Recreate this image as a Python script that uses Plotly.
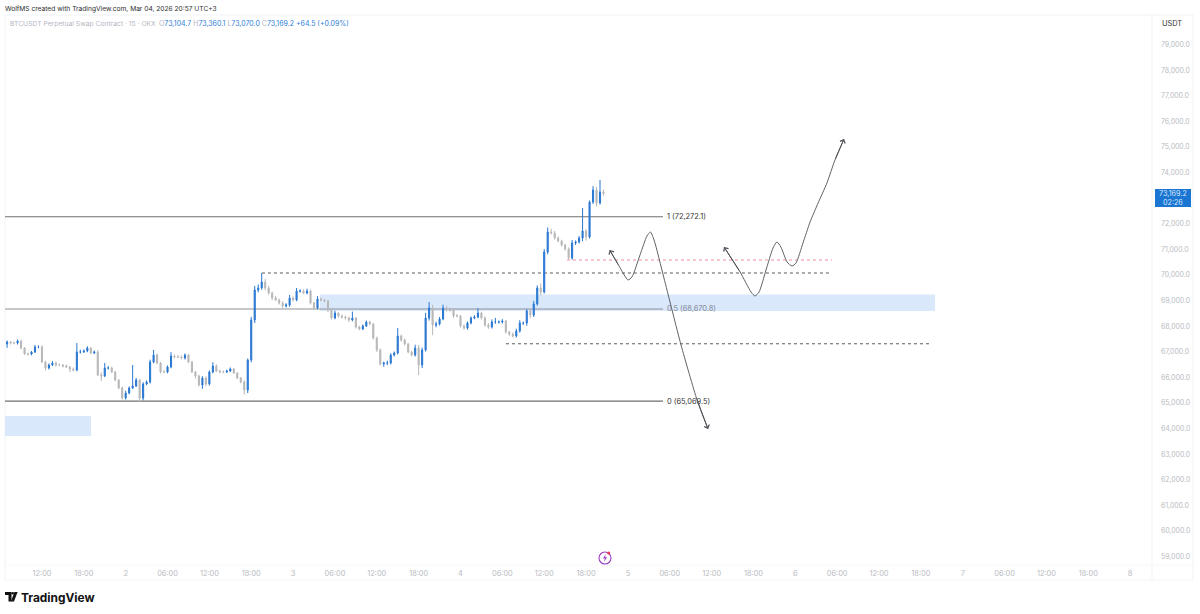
import pandas as pd
import plotly.graph_objects as go

# 30-minute candle path
closes = [
67380,67340,67340,67418,67145,66911,66911,66989,67184,67184,
66598,66364,66481,66559,66481,66481,66442,66403,66325,66286,
66989,66989,67028,67145,66950,66989,66090,66051,66364,66364,
66208,65895,65583,65192,65387,65583,65661,65895,65192,65739,
65817,66598,66872,66559,66208,66208,66403,66833,66794,66794,
66755,66872,66598,66208,66051,65700,65973,65739,66208,66442,
66247,66208,66208,66247,66325,66169,65973,65817,65505,66676,
68239,69411,69489,69723,69489,69293,69098,69020,68903,68786,
68825,69098,69020,69371,69371,69293,69371,68903,68708,69059,
69020,68981,68629,68317,68512,68395,68356,68317,68239,68317,
67965,67887,68005,68161,68083,67536,67067,66520,66559,66559,
66872,66950,67614,67458,67301,66989,66872,67145,66481,67067,
68317,68708,68043,68083,68278,68708,68629,68629,68395,68395,
68005,67926,68122,68317,68356,68512,68317,68043,67965,68161,
68161,68161,68200,67770,67692,67614,67809,68122,68122,68590,
68434,68864,69489,69332,70895,71676,71637,71442,71325,71169,
71012,70660,71247,71286,71442,71715,71481,72848,73317,72809,
73239,73169.2]
upper_wicks = [
60,40,50,60,40,30,50,40,80,60,
70,50,60,80,50,60,40,60,40,60,
350,90,60,70,40,60,70,110,200,70,
50,40,40,60,90,60,820,80,50,70,
60,90,195,60,40,70,60,150,60,70,
60,60,50,40,40,50,70,60,60,150,
60,50,60,50,60,40,40,40,60,60,
120,160,140,350,120,90,50,80,60,70,
70,120,60,120,70,60,90,60,50,110,
60,50,40,60,90,50,60,60,60,250,
40,50,60,60,50,40,50,60,50,90,
70,60,310,60,60,40,50,130,120,90,
200,230,120,90,80,130,80,90,50,80,
40,50,60,60,70,190,50,60,70,100,
160,60,70,40,50,60,90,110,50,70,
80,120,100,170,120,180,130,80,60,50,
50,60,120,60,80,900,70,60,150,120,
470,100]
lower_wicks = [
150,60,50,60,50,40,60,50,40,50,
40,100,60,40,60,50,60,40,120,60,
50,60,40,50,50,40,40,200,40,60,
40,50,50,60,60,50,40,40,156,90,
50,60,50,50,60,40,50,50,60,40,
50,60,40,40,100,60,150,90,60,50,
40,50,50,40,40,40,50,50,180,120,
90,120,90,70,90,60,80,50,60,90,
60,70,60,50,60,50,50,60,60,50,
50,50,90,60,50,60,60,60,80,50,
60,50,40,40,50,60,70,60,110,80,
60,60,60,70,60,50,60,60,390,120,
60,100,400,90,60,50,60,60,70,50,
60,60,70,50,50,50,60,60,70,60,
70,60,60,60,80,60,60,60,80,110,
120,80,60,130,60,90,60,60,50,60,
60,60,70,80,60,130,140,60,80,130,
60,70]
first_open = 67300

fib_levels = [72272.1, 68670.8, 65069.5]
fib_labels = ["1 (72,272.1)", "0.5 (68,670.8)", "0 (65,069.5)"]
dash_high, dash_low, dash_red = 70075, 67310, 70582
zone_upper = (69235, 68590)
zone_lower = (64489, 63708)

path1_t = ["2026-03-04 21:23","2026-03-04 22:44","2026-03-05 00:01","2026-03-05 00:35","2026-03-05 01:44","2026-03-05 02:44",
           "2026-03-05 03:14","2026-03-05 03:45","2026-03-05 05:10","2026-03-05 07:37","2026-03-05 09:55","2026-03-05 11:29"]
path1_p = [70973,70348,69801,69919,70778,71520,71676,71364,69880,67262,65114,63982]
path2_t = ["2026-03-05 13:47","2026-03-05 16:05","2026-03-05 17:39","2026-03-05 18:13","2026-03-05 18:48","2026-03-05 19:48",
           "2026-03-05 20:48","2026-03-05 21:22","2026-03-05 21:56","2026-03-05 22:49","2026-03-05 23:32","2026-03-06 00:06",
           "2026-03-06 01:06","2026-03-06 02:07","2026-03-06 03:16","2026-03-06 04:32","2026-03-06 05:41","2026-03-06 06:59"]
path2_p = [71090,70114,69332,69176,69332,70192,71051,71286,71090,70504,70348,70465,71247,72067,72809,73590,74488,75308]

# 73,000.0 is hidden behind the last-price tag in the reference
price_ticks = [p for p in range(59000, 80000, 1000) if p != 73000]
time_ticks = ["2026-03-01 12:00","2026-03-01 18:00","2026-03-02 00:00","2026-03-02 06:00","2026-03-02 12:00","2026-03-02 18:00",
              "2026-03-03 00:00","2026-03-03 06:00","2026-03-03 12:00","2026-03-03 18:00","2026-03-04 00:00","2026-03-04 06:00",
              "2026-03-04 12:00","2026-03-04 18:00","2026-03-05 00:00","2026-03-05 06:00","2026-03-05 12:00","2026-03-05 18:00",
              "2026-03-06 00:00","2026-03-06 06:00","2026-03-06 12:00","2026-03-06 18:00","2026-03-07 00:00","2026-03-07 06:00",
              "2026-03-07 12:00","2026-03-07 18:00","2026-03-08 00:00"]
time_labels = ["12:00","18:00","2","06:00","12:00","18:00","3","06:00","12:00","18:00","4","06:00",
               "12:00","18:00","5","06:00","12:00","18:00","6","06:00","12:00","18:00","7","06:00","12:00","18:00","8"]

times = pd.date_range("2026-03-01 07:00", periods=len(closes), freq="30min")
opens = [first_open] + closes[:-1]
highs = [max(o, c) + w for o, c, w in zip(opens, closes, upper_wicks)]
lows = [min(o, c) - w for o, c, w in zip(opens, closes, lower_wicks)]

UP, DOWN = "#2a78d2", "#b9b7b7"
FONT = "Inter"
W, H, L, R, T, B = 1200, 614, 5, 1152, 15, 565
px = lambda v: (v - L) / (R - L)
py = lambda v: (B - v) / (B - T)

fig = go.Figure()
fig.add_trace(go.Candlestick(
    x=times, open=opens, high=highs, low=lows, close=closes,
    increasing=dict(line=dict(color=UP, width=1), fillcolor=UP),
    decreasing=dict(line=dict(color=DOWN, width=1), fillcolor=DOWN),
    whiskerwidth=0, showlegend=False, hoverinfo="skip"))
for tt, pp in ((path1_t, path1_p), (path2_t, path2_p)):
    fig.add_trace(go.Scatter(x=tt, y=pp, mode="lines", showlegend=False, hoverinfo="skip",
                             line=dict(color="#5f6368", width=1, shape="spline", smoothing=0.6)))

x_left = "2026-03-01 06:42"
shapes = []
def rect(t0, t1, band):
    shapes.append(dict(type="rect", xref="x", yref="y", x0=t0, x1=t1, y0=band[1], y1=band[0],
                       fillcolor="#d9e8fb", line_width=0, layer="below"))
def hline(t0, t1, y, color, width=1, dash="solid"):
    shapes.append(dict(type="line", xref="x", yref="y", x0=t0, x1=t1, y0=y, y1=y,
                       line=dict(color=color, width=width, dash=dash), layer="between"))
rect("2026-03-03 03:51", "2026-03-06 20:02", zone_upper)
rect(x_left, "2026-03-01 19:02", zone_lower)
fib_end = "2026-03-05 05:02"
hline(x_left, fib_end, fib_levels[0], "#707070", 1.2)
hline(x_left, fib_end, fib_levels[1], "#8d9198", 1.1)
hline(x_left, fib_end, fib_levels[2], "#707070", 1.2)
hline("2026-03-02 19:32", "2026-03-06 04:58", dash_high, "#5a5a5a", 1, "3px,3px")
hline("2026-03-04 06:31", "2026-03-06 19:28", dash_low, "#5a5a5a", 1, "3px,3px")
hline("2026-03-04 15:16", "2026-03-06 05:16", dash_red, "#ee8fa0", 1, "3px,3px")

def pbox(x0, y0, x1, y1, **kw):
    shapes.append(dict(type=kw.pop("type", "rect"), xref="paper", yref="paper",
                       x0=px(x0), x1=px(x1), y0=py(y0), y1=py(y1), **kw))
frame = "#f1f3f8"
pbox(5, 15, 1193, 580, line=dict(color=frame, width=1), layer="below")
pbox(1152, 15, 1152, 580, type="line", line=dict(color=frame, width=1), layer="below")
pbox(5, 565, 1193, 565, type="line", line=dict(color="#f6f7fa", width=1), layer="below")
pbox(1155, 189, 1191, 207, fillcolor="#1a76d2", line_width=0)
pbox(599, 552, 611, 564, type="circle", line=dict(color="#9b3fc4", width=1.1))
pbox(607.2, 551.5, 610.2, 554.5, type="circle", fillcolor="#e8394f", line_width=0)
def ppath(points, fill="#111111", line=None):
    d = "M" + " L".join(f"{px(a):.5f},{py(b):.5f}" for a, b in points) + " Z"
    shapes.append(dict(type="path", xref="paper", yref="paper", path=d, fillcolor=fill,
                       line=line or dict(width=0)))
# flash icon
ppath([(605.8, 554), (603, 558.6), (604.9, 558.6), (604.2, 562), (607, 557.2), (605.1, 557.2)],
      fill="#9b3fc4")
# TradingView mark
ppath([(5, 592), (11.5, 592), (11.5, 601.5), (8.5, 601.5), (8.5, 595), (5, 595)])
ppath([(17.6, 592), (14, 601.5), (10.9, 601.5), (14.4, 592)])
pbox(11.4, 592, 14, 594.6, type="circle", fillcolor="#111111", line_width=0)

def note(x, y, text, size=7.5, color="#333333", anchor="left", **kw):
    return dict(xref="paper", yref="paper", x=px(x), y=py(y), text=text, showarrow=False,
                xanchor=anchor, yanchor="middle", align=anchor,
                font=dict(family=kw.pop("family", FONT), size=size, color=color), **kw)

gray, blue = "#b4b7bf", "#2f80d8"
ohlc = "".join(f'<span style="color:{gray}">{k}</span><span style="color:{blue}">{v}</span> '
               for k, v in (("O", "73,104.7"), ("H", "73,360.1"), ("L", "73,070.0"), ("C", "73,169.2")))
ann = [
    note(3, 8.5, "WolfMS created with TradingView.com, Mar 04, 2026 20:57 UTC+3", 6.65, "#2e2e2e"),
    note(8, 24, "BTCUSDT Perpetual Swap Contract · 15 · OKX", 6.75, gray),
    note(157, 24, ohlc + f'<span style="color:{blue}">+64.5 (+0.09%)</span>', 7.0),
    note(1160, 24, "USDT", 7.4, "#333333"),
    note(1173, 198, "73,169.2<br>02:26", 7.2, "#d8e8fa", "center"),
    note(19, 597, "<b>TradingView</b>", 11.9, "#111111"),
]
fib_colors = ["#333333", "#7c8596", "#333333"]
for lvl, lab, col in zip(fib_levels, fib_labels, fib_colors):
    ann.append(dict(x="2026-03-05 05:23", y=lvl, xref="x", yref="y", text=lab, showarrow=False,
                    xanchor="left", yanchor="middle", font=dict(family=FONT, size=7.4, color=col)))
for tt, pp, (a, b) in ((path1_t, path1_p, (1, 0)), (path1_t, path1_p, (-2, -1)),
                       (path2_t, path2_p, (1, 0)), (path2_t, path2_p, (-2, -1))):
    ann.append(dict(x=tt[b], y=pp[b], ax=tt[a], ay=pp[a], xref="x", yref="y", axref="x", ayref="y", text="",
                    showarrow=True, arrowhead=4, arrowsize=1.1, arrowwidth=1, arrowcolor="#4c4f55"))

fig.update_layout(
    width=W, height=H, autosize=False, paper_bgcolor="white", plot_bgcolor="white",
    margin=dict(l=L, r=W - R, t=T, b=H - B), showlegend=False, boxgap=0.55,
    shapes=shapes, annotations=ann, font=dict(family=FONT),
    xaxis=dict(type="date", range=[x_left, "2026-03-08 03:08"], rangeslider=dict(visible=False),
               tickmode="array", tickvals=time_ticks, ticktext=time_labels, showgrid=False, zeroline=False,
               showline=False, ticks="", ticklabelstandoff=3,
               tickfont=dict(family=FONT, size=7.4, color="#b8bbc2")),
    yaxis=dict(side="right", range=[58669, 80152], tickmode="array", tickvals=price_ticks,
               ticktext=[f"{v:,.1f}" for v in price_ticks], showgrid=False, zeroline=False,
               showline=False, ticks="", ticklabelstandoff=8,
               tickfont=dict(family=FONT, size=6.9, color="#b8bbc2")),
)
fig.write_html("out.html", config=dict(displayModeBar=False),
               post_script="document.body.style.margin='0';document.body.style.overflow='hidden';")
